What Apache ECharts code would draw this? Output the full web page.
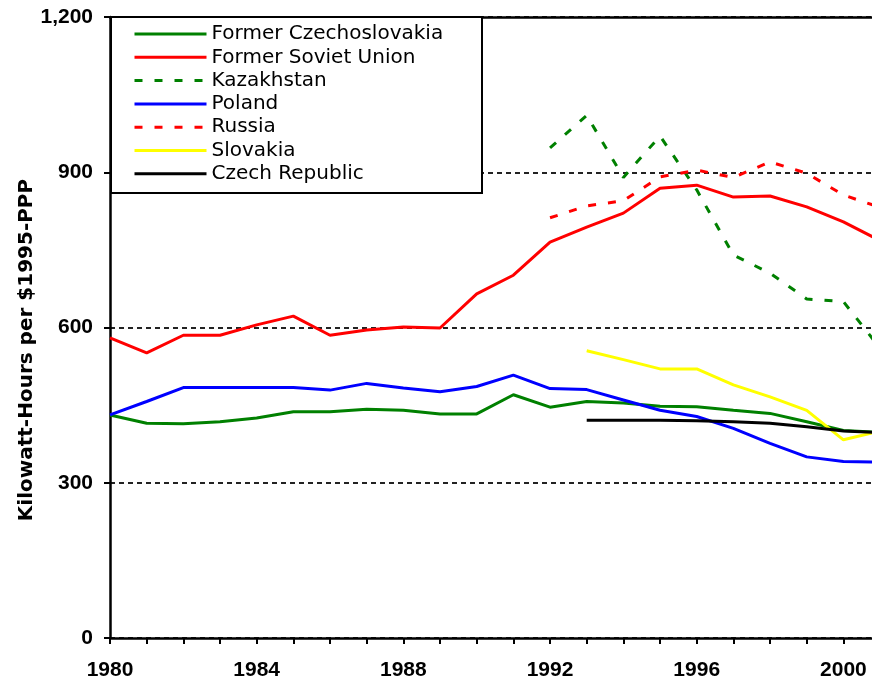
<!DOCTYPE html>
<html>
<head>
<meta charset="utf-8">
<script src="https://cdn.jsdelivr.net/npm/echarts@6/dist/echarts.min.js"></script>
<style>
html,body{margin:0;padding:0;background:#fff;}
#chart{width:872px;height:683px;}
</style>
</head>
<body>
<div id="chart"></div>
<script>
// ---- data ----
const years = [1980,1981,1982,1983,1984,1985,1986,1987,1988,1989,1990,1991,1992,1993,1994,1995,1996,1997,1998,1999,2000,2001];
const yearsLate = [1992,1993,1994,1995,1996,1997,1998,1999,2000,2001];
const yearsCzSk = [1993,1994,1995,1996,1997,1998,1999,2000,2001];

const formerCzechoslovakia = [431,415,414,418,425,437,437,442,440,433,433,470,446,457,454,448,447,440,434,418,401,397];
const formerSovietUnion    = [580,551,585,585,605,622,585,595,601,599,665,701,765,794,821,869,875,852,854,833,804,768];
const poland               = [431,457,484,484,484,484,479,492,483,476,486,508,482,480,460,440,428,405,376,350,341,340];
const kazakhstan           = [947,1010,890,970,866,740,705,655,650,560];
const russia               = [812,835,845,891,904,890,920,898,856,832];
const slovakia             = [555,538,520,520,489,466,440,383,400];
const czechRepublic        = [421,421,421,420,418,415,408,400,397];

const yTicks = [0,300,600,900,1200];
const seriesNames = ['Former Czechoslovakia','Former Soviet Union','Kazakhstan','Poland','Russia','Slovakia','Czech Republic'];

function pairs(xs, ys){ return xs.map((x,i)=>[x, ys[i]]); }

const chart = echarts.init(document.getElementById('chart'), null, {renderer:'canvas'});

function lineSeries(name, xs, ys, color, dashed){
  return {
    name: name,
    type: 'line',
    data: pairs(xs, ys),
    symbol: 'none',
    showSymbol: false,
    smooth: false,
    lineStyle: {color: color, width: 3, type: dashed ? [8,12] : 'solid'},
    itemStyle: {color: color},
    emphasis: {disabled: true},
    silent: true
  };
}

const X_MAX = 2000.78;

const option = {
  animation: false,
  backgroundColor: '#fff',
  grid: {left: 110, right: 0, top: 17, bottom: 45, containLabel: false},
  xAxis: [{
    type: 'value',
    min: 1980, max: X_MAX, interval: 1,
    axisLine: {show: true, onZero: false, lineStyle: {color: '#000', width: 2.5}},
    axisTick: {show: true, length: 6, lineStyle: {color: '#000', width: 2}},
    axisLabel: {
      margin: 22,
      showMaxLabel: false,
      fontFamily: 'Liberation Sans, Arial, sans-serif',
      fontWeight: 'bold', fontSize: 21, color: '#000',
      formatter: function(v){ return (v % 4 === 0) ? String(v) : ''; }
    },
    splitLine: {show: false}
  },{
    type: 'value', position: 'top',
    min: 1980, max: X_MAX,
    axisLine: {show: true, onZero: false, lineStyle: {color: '#000', width: 2.5}},
    axisTick: {show: false}, axisLabel: {show: false}, splitLine: {show: false}
  }],
  yAxis: {
    type: 'value',
    min: yTicks[0], max: yTicks[yTicks.length-1], interval: 300,
    axisLine: {show: true, lineStyle: {color: '#000', width: 2.5}},
    axisTick: {show: true, length: 6, lineStyle: {color: '#000', width: 2}},
    axisLabel: {
      margin: 17,
      fontFamily: 'Liberation Sans, Arial, sans-serif',
      fontWeight: 'bold', fontSize: 21, color: '#000',
      formatter: function(v){ return v.toLocaleString('en-US'); }
    },
    splitLine: {show: true, lineStyle: {color: '#222', width: 2, type: [5,4]}}
  },
  legend: {
    show: true,
    orient: 'vertical',
    left: 111, top: 17,
    padding: [7, 0, 0, 22],
    itemWidth: 72, itemHeight: 14, itemGap: 3.3,
    selectedMode: false,
    itemStyle: {opacity: 0, borderWidth: 0},
    lineStyle: {width: 3},
    textStyle: {fontFamily: 'DejaVu Sans, sans-serif', fontSize: 20, color: '#000'},
    data: seriesNames,
    z: 10
  },
  graphic: [
    {
      type: 'rect', z: 5,
      shape: {x: 111, y: 17, width: 371, height: 176},
      style: {fill: '#fff', stroke: '#000', lineWidth: 2}
    },
    {
      type: 'text', z: 5,
      x: 27, y: 350, rotation: Math.PI/2,
      style: {
        text: 'Kilowatt-Hours per $1995-PPP',
        fontFamily: 'DejaVu Sans, sans-serif',
        fontWeight: 'bold', fontSize: 20, fill: '#000',
        textAlign: 'center', textVerticalAlign: 'middle'
      }
    }
  ],
  series: [
    lineSeries(seriesNames[0], years, formerCzechoslovakia, '#008000', false),
    lineSeries(seriesNames[1], years, formerSovietUnion, '#ff0000', false),
    lineSeries(seriesNames[2], yearsLate, kazakhstan, '#008000', true),
    lineSeries(seriesNames[3], years, poland, '#0000ff', false),
    lineSeries(seriesNames[4], yearsLate, russia, '#ff0000', true),
    lineSeries(seriesNames[5], yearsCzSk, slovakia, '#ffff00', false),
    lineSeries(seriesNames[6], yearsCzSk, czechRepublic, '#000000', false)
  ]
};
chart.setOption(option);
</script>
</body>
</html>
